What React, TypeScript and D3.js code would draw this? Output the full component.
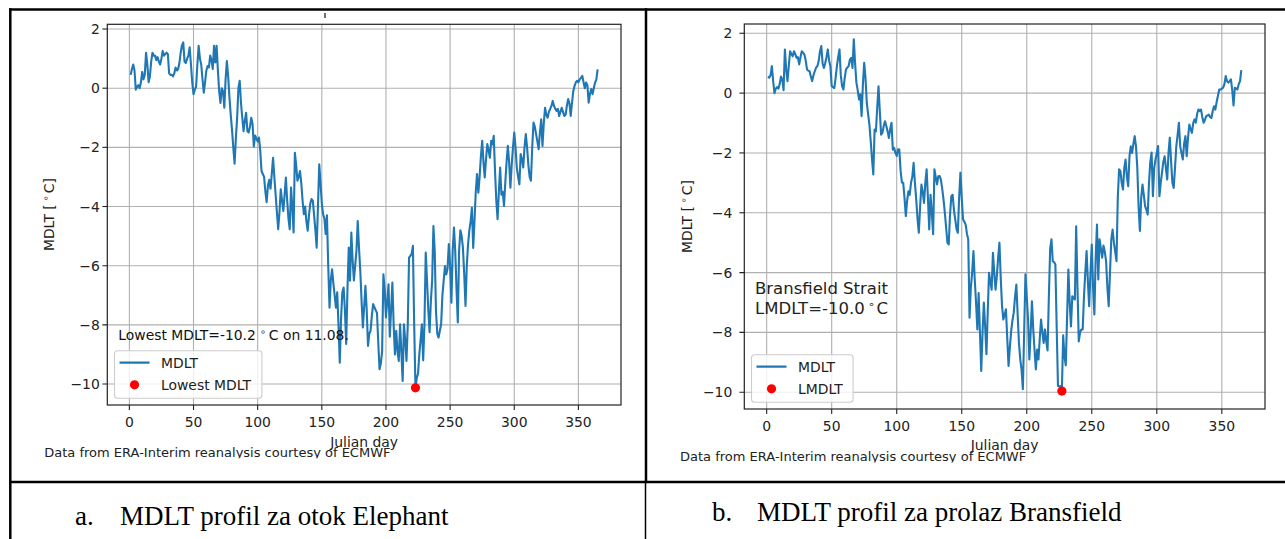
import React from 'react';
import * as d3 from 'd3';

const DAYS: number[] = d3.range(1, 366);
const X_TICKS = [0, 50, 100, 150, 200, 250, 300, 350];
const Y_TICKS = [-10, -8, -6, -4, -2, 0, 2];

// Elephant Island MDLT, days 1..365
const ELEPHANT = [
  0.45, 0.65, 0.8, 0.6, -0.05, 0.05, 0.1, 0.0, 0.2, 0.55,
  0.3, 0.45, 1.2, 0.8, 0.2, 0.4, 0.9, 1.2, 1.1, 1.1,
  0.95, 1.05, 0.9, 0.8, 1.0, 1.26, 1.1, 1.15, 1.2, 1.15,
  0.5, 0.45, 0.45, 0.4, 0.5, 0.7, 0.6, 0.65, 0.85, 1.2,
  1.45, 1.55, 0.9, 0.85, 1.0, 1.1, 1.38, 0.8, 0.2, -0.2,
  -0.05, 0.05, 0.8, 1.43, 1.0, 0.8, 0.3, -0.15, 0.2, 0.6,
  0.75, 0.7, 1.1, 0.95, 0.65, 1.43, 0.87, 1.43, 0.6, -0.1,
  -0.5, 0.0, -0.1, -0.66, 0.3, 0.92, 0.4, -0.3, -0.9, -1.4,
  -2.0, -2.55, -1.7, -1.0, 0.0, 0.25, -0.5, -1.0, -1.45, -1.1,
  -0.83, -1.45, -1.5, -1.3, -1.0, -1.2, -1.97, -1.6, -1.7, -1.8,
  -1.67, -2.1, -2.8, -2.9, -3.0, -3.5, -3.85, -3.3, -3.1, -3.4,
  -2.9, -2.35, -3.0, -3.6, -4.2, -4.77, -4.2, -3.42, -3.8, -4.15,
  -3.6, -3.02, -3.8, -4.4, -4.77, -3.36, -4.0, -4.88, -2.18, -2.6,
  -3.13, -3.0, -2.8, -3.2, -3.8, -4.26, -4.0, -4.5, -4.82, -4.3,
  -3.9, -3.75, -3.8, -4.3, -4.8, -5.39, -4.0, -2.57, -3.2, -3.9,
  -4.26, -4.4, -4.93, -4.3, -6.0, -7.42, -6.5, -6.12, -6.6, -7.0,
  -7.42, -6.9, -8.0, -9.28, -7.8, -6.9, -6.74, -7.5, -8.65, -6.8,
  -5.39, -6.51, -4.88, -5.8, -6.5, -6.0, -5.5, -4.49, -5.4, -6.18,
  -7.2, -8.09, -7.4, -6.68, -7.5, -8.71, -8.3, -8.2, -7.7, -7.3,
  -7.4, -7.5, -7.6, -8.6, -9.5, -9.3, -8.9, -6.29, -6.8, -7.75,
  -7.2, -6.63, -8.4, -7.5, -6.57, -8.0, -9.0, -8.2, -8.9, -9.22,
  -7.98, -8.9, -9.9, -7.98, -8.5, -9.22, -8.0, -5.73, -5.67, -5.6,
  -5.33, -8.0, -10.13, -9.8, -9.65, -9.0, -8.5, -7.98, -9.2, -8.0,
  -5.56, -6.5, -7.5, -8.25, -7.2, -6.5, -4.66, -5.5, -7.55, -8.3,
  -8.43, -8.2, -7.98, -7.0, -6.5, -6.01, -6.3, -6.1, -5.27, -6.0,
  -7.25, -5.5, -4.71, -5.5, -6.8, -7.92, -5.5, -4.8, -5.0, -5.4,
  -6.3, -7.36, -6.0, -5.27, -4.8, -4.5, -4.04, -5.4, -4.5, -3.5,
  -2.9, -3.53, -3.0, -2.3, -1.78, -2.5, -3.02, -2.4, -1.89, -2.1,
  -2.35, -1.78, -1.9, -1.61, -2.8, -3.8, -4.43, -3.5, -2.68, -3.6,
  -3.5, -3.98, -3.2, -2.5, -1.95, -2.5, -3.36, -2.6, -2.0, -1.5,
  -2.0, -2.7, -3.0, -3.25, -2.23, -2.4, -2.68, -2.0, -1.55, -2.0,
  -2.6, -3.0, -3.13, -2.0, -1.16, -1.3, -1.55, -1.8, -2.06, -1.5,
  -1.05, -1.95, -1.2, -0.66, -0.9, -1.0, -0.8, -0.7, -0.6, -0.43,
  -0.6, -0.7, -0.77, -0.7, -0.94, -0.8, -0.66, -0.8, -0.94, -0.9,
  -0.6, -0.37, -0.5, -0.94, -0.5, -0.1, 0.08, 0.2, 0.25, 0.2,
  0.3, 0.35, 0.42, 0.2, 0.0, 0.19, 0.1, -0.49, -0.2, -0.03,
  -0.2, 0.0, 0.19, 0.3, 0.64,
];

// Bransfield Strait MDLT, days 1..365
const BRANSFIELD = [
  0.55, 0.52, 0.6, 0.9, 0.4, 0.0, 0.15, 0.2, 0.15, 0.3,
  0.55, 0.45, 0.1, 1.46, 0.8, 0.4, 0.9, 1.4, 1.3, 1.23,
  1.4, 1.3, 1.18, 1.2, 0.96, 1.2, 1.4, 1.35, 1.29, 1.1,
  0.79, 0.75, 0.73, 0.55, 0.4, 0.6, 0.73, 0.85, 0.9, 1.07,
  1.4, 1.57, 1.0, 0.84, 1.0, 1.2, 1.46, 1.1, 0.9, 0.23,
  0.2, 0.17, 0.5, 0.9, 1.2, 1.46, 0.6, 0.23, 0.12, 0.5,
  0.79, 0.85, 0.9, 1.12, 1.18, 0.84, 1.8, 1.0, 0.35, 0.1,
  -0.21, -0.04, -0.77, 0.3, 1.01, 0.5, -0.33, -0.7, -1.05, -1.6,
  -2.2, -2.72, -1.22, -1.28, -0.5, 0.23, -0.6, -1.39, -1.33, -1.1,
  -0.94, -1.1, -1.28, -1.5, -1.2, -0.99, -1.89, -1.83, -2.0, -2.1,
  -1.88, -1.89, -2.6, -2.99, -3.0, -3.5, -4.11, -3.6, -3.28, -3.4,
  -3.0, -2.8, -2.33, -3.0, -3.56, -4.2, -4.67, -3.8, -3.06, -3.3,
  -3.67, -3.0, -2.55, -3.5, -4.56, -3.4, -4.0, -4.72, -2.55, -2.8,
  -3.05, -2.78, -2.77, -2.9, -3.2, -3.56, -4.0, -4.5, -5.0, -5.06,
  -4.06, -3.45, -3.4, -3.9, -4.22, -4.55, -4.67, -3.5, -2.66, -3.5,
  -4.22, -4.3, -4.39, -4.7, -4.89, -7.51, -6.5, -6.01, -5.28, -6.23,
  -7.0, -7.9, -6.68, -8.0, -9.29, -8.0, -7.0, -7.8, -8.73, -7.3,
  -6.01, -6.3, -6.57, -5.34, -6.0, -6.57, -6.12, -5.5, -5.0, -6.2,
  -7.12, -7.57, -7.4, -7.23, -8.2, -9.12, -8.5, -7.96, -7.6, -7.34,
  -6.8, -6.4, -7.4, -8.35, -8.9, -9.24, -9.9, -8.0, -6.06, -6.8,
  -7.57, -8.9, -8.0, -6.96, -7.9, -8.6, -9.24, -8.57, -8.9, -8.2,
  -7.57, -8.0, -8.35, -7.9, -8.3, -8.6, -6.8, -5.2, -4.89, -5.62,
  -5.65, -5.73, -7.8, -9.79, -9.8, -9.79, -9.96, -8.1, -8.8, -9.1,
  -7.5, -5.9, -7.0, -7.8, -6.79, -6.85, -6.9, -4.45, -6.5, -8.3,
  -8.0, -7.9, -7.9, -6.8, -6.0, -5.28, -6.3, -7.12, -6.0, -5.06,
  -6.5, -7.4, -5.5, -4.39, -6.23, -4.89, -5.2, -5.5, -5.1, -5.3,
  -5.62, -6.5, -7.12, -6.0, -4.9, -4.56, -5.0, -5.3, -5.62, -3.5,
  -2.55, -2.6, -3.0, -3.22, -2.5, -2.22, -2.8, -3.11, -2.11, -1.78,
  -2.0, -1.7, -1.44, -1.78, -2.5, -3.8, -4.61, -3.5, -3.06, -3.4,
  -3.78, -3.9, -4.06, -3.0, -2.3, -1.99, -3.45, -2.5, -2.22, -2.0,
  -1.77, -3.45, -3.0, -2.66, -2.3, -2.11, -2.5, -2.89, -2.0, -1.49,
  -2.3, -3.0, -3.17, -2.5, -1.78, -1.4, -0.99, -1.78, -2.0, -2.22,
  -1.7, -1.44, -2.11, -1.5, -1.05, -1.2, -1.33, -1.0, -0.88, -0.99,
  -0.7, -0.55, -0.6, -0.55, -0.8, -0.99, -0.9, -0.77, -0.75, -0.72,
  -0.8, -0.83, -0.6, -0.44, -0.55, -0.3, -0.1, 0.12, 0.12, 0.15,
  0.18, 0.3, 0.57, 0.4, 0.35, 0.4, 0.46, 0.1, -0.41, 0.18,
  0.15, 0.12, 0.3, 0.4, 0.77,
];

const ELEPHANT_MIN = { day: 223, value: -10.13 };
const BRANSFIELD_MIN = { day: 227, value: -9.96 };
const LEGEND_A = ['MDLT', 'Lowest MDLT'];
const LEGEND_B = ['MDLT', 'LMDLT'];
const FOOTER = 'Data from ERA-Interim reanalysis courtesy of ECMWF';
const CAPTION_A = ['a.', 'MDLT profil za otok Elephant'];
const CAPTION_B = ['b.', 'MDLT profil za prolaz Bransfield'];

const FONT = '"DejaVu Sans", sans-serif';
const BLUE = '#1f77b4';
const FS = 13.9;

type ChartProps = {
  id: string;
  values: number[];
  min: { day: number; value: number };
  legend: string[];
  box: { l: number; r: number; t: number; b: number };
  yDomain: [number, number];
  yTickGap: number;
  ylabelX: number;
  xlabelY: number;
  footerX: number;
  footerY: number;
  clipBottom: number;
  clipLeft: number;
  clipRight: number;
  legendW: number;
  annotation: React.ReactNode;
};

function Chart(p: ChartProps) {
  const x = d3.scaleLinear().domain([-17.2, 383.2]).range([p.box.l, p.box.r]);
  const y = d3.scaleLinear().domain(p.yDomain).range([p.box.b, p.box.t]);
  const line = d3
    .line<number>()
    .x((_, i) => x(DAYS[i]))
    .y((d) => y(d));
  const { l, r, t, b } = p.box;
  const legH = 47.5;
  const legX = l + 7.2;
  const legY = b - 6.7 - legH;
  const cx = (l + r) / 2;
  const cy = (t + b) / 2;
  return (
    <g clipPath={`url(#fig-${p.id})`}>
      <defs>
        <clipPath id={`fig-${p.id}`}>
          <rect x={p.clipLeft} y={0} width={p.clipRight - p.clipLeft} height={p.clipBottom} />
        </clipPath>
        <clipPath id={`ax-${p.id}`}>
          <rect x={l} y={t} width={r - l} height={b - t} />
        </clipPath>
      </defs>
      <g clipPath={`url(#ax-${p.id})`}>
        {X_TICKS.map((v) => (
          <line key={'gx' + v} x1={x(v)} x2={x(v)} y1={t} y2={b} stroke="#b0b0b0" strokeWidth={1.1} />
        ))}
        {Y_TICKS.map((v) => (
          <line key={'gy' + v} x1={l} x2={r} y1={y(v)} y2={y(v)} stroke="#b0b0b0" strokeWidth={1.1} />
        ))}
        <path d={line(p.values) || ''} fill="none" stroke={BLUE} strokeWidth={2.1} strokeLinejoin="round" />
        <circle cx={x(p.min.day)} cy={y(p.min.value)} r={4.6} fill="#ff0000" />
      </g>
      <rect x={l} y={t} width={r - l} height={b - t} fill="none" stroke="#222" strokeWidth={1.2} />
      {X_TICKS.map((v) => (
        <g key={'tx' + v}>
          <line x1={x(v)} x2={x(v)} y1={b} y2={b + 4.9} stroke="#222" strokeWidth={1.1} />
          <text x={x(v)} y={b + 21.6} textAnchor="middle" fontFamily={FONT} fontSize={FS} fill="#222">
            {v}
          </text>
        </g>
      ))}
      {Y_TICKS.map((v) => (
        <g key={'ty' + v}>
          <line x1={l - 4.9} x2={l} y1={y(v)} y2={y(v)} stroke="#222" strokeWidth={1.1} />
          <text x={l - p.yTickGap} y={y(v) + 5} textAnchor="end" fontFamily={FONT} fontSize={FS} fill="#222">
            {v < 0 ? '\u2212' + Math.abs(v) : String(v)}
          </text>
        </g>
      ))}
      <text
        transform={`translate(${p.ylabelX},${cy}) rotate(-90)`}
        textAnchor="middle"
        fontFamily={FONT}
        fontSize={FS}
        fill="#222"
      >
        MDLT [<tspan dx={3} dy={-5} fontSize={9.5}>{'\u2218'}</tspan>
        <tspan dx={2} dy={5}>C]</tspan>
      </text>
      <text x={cx} y={p.xlabelY} textAnchor="middle" fontFamily={FONT} fontSize={FS} fill="#222">
        Julian day
      </text>
      <text x={p.footerX} y={p.footerY} fontFamily={FONT} fontSize={13} fill="#222">
        {FOOTER}
      </text>
      {p.annotation}
      <rect
        x={legX}
        y={legY}
        width={p.legendW}
        height={legH}
        rx={3}
        fill="#ffffff"
        fillOpacity={0.8}
        stroke="#cccccc"
        strokeWidth={1.1}
      />
      <line x1={legX + 5} x2={legX + 35} y1={legY + 11.8} y2={legY + 11.8} stroke={BLUE} strokeWidth={2.1} />
      <text x={legX + 46.5} y={legY + 16.8} fontFamily={FONT} fontSize={FS} fill="#222">
        {p.legend[0]}
      </text>
      <circle cx={legX + 20} cy={legY + 34} r={4.6} fill="#ff0000" />
      <text x={legX + 46.5} y={legY + 39} fontFamily={FONT} fontSize={FS} fill="#222">
        {p.legend[1]}
      </text>
    </g>
  );
}

export default function App() {
  const serif = '"Liberation Serif", "Times New Roman", serif';
  return (
    <svg
      width={1285}
      height={539}
      viewBox="0 0 1285 539"
      style={{ position: 'absolute', left: 0, top: 0, background: '#fff' }}
    >
      <rect x={0} y={0} width={1285} height={539} fill="#fff" />
      <Chart
        id="a"
        values={ELEPHANT}
        min={ELEPHANT_MIN}
        legend={LEGEND_A}
        box={{ l: 107.3, r: 621, t: 24.3, b: 405 }}
        yDomain={[-10.71, 2.16]}
        yTickGap={7.5}
        ylabelX={53.5}
        xlabelY={446.5}
        footerX={44.3}
        footerY={457.3}
        clipBottom={458.3}
        clipLeft={12}
        clipRight={644}
        legendW={147.4}
        annotation={
          <text x={118.3} y={340} fontFamily={FONT} fontSize={FS} fill="#111">
            Lowest MDLT=-10.2<tspan dx={4} dy={-5} fontSize={9.5}>{'\u2218'}</tspan>
            <tspan dx={3} dy={5}>C on 11.08.</tspan>
          </text>
        }
      />
      <line x1={325} x2={325} y1={13} y2={18} stroke="#333" strokeWidth={1.4} />
      <Chart
        id="b"
        values={BRANSFIELD}
        min={BRANSFIELD_MIN}
        legend={LEGEND_B}
        box={{ l: 744.3, r: 1265, t: 24, b: 409 }}
        yDomain={[-10.56, 2.31]}
        yTickGap={12}
        ylabelX={691.5}
        xlabelY={450}
        footerX={680}
        footerY={461}
        clipBottom={462.5}
        clipLeft={648}
        clipRight={1285}
        legendW={101.6}
        annotation={
          <text fontFamily={FONT} fontSize={16.5} fill="#222">
            <tspan x={755} y={294.3}>Bransfield Strait</tspan>
            <tspan x={755} y={314.3}>
              LMDLT=-10.0<tspan dx={3} dy={-6} fontSize={11}>{'\u2218'}</tspan>
              <tspan dx={2} dy={6}>C</tspan>
            </tspan>
          </text>
        }
      />
      <line x1={9} x2={1285} y1={9.5} y2={9.5} stroke="#000" strokeWidth={2.5} />
      <line x1={10.3} x2={10.3} y1={8.3} y2={539} stroke="#000" strokeWidth={2.5} />
      <line x1={646} x2={646} y1={8.3} y2={482} stroke="#000" strokeWidth={2.5} />
      <line x1={9} x2={1285} y1={482} y2={482} stroke="#000" strokeWidth={2.5} />
      <line x1={645.5} x2={645.5} y1={482} y2={539} stroke="#000" strokeWidth={1.5} />
      <text x={75} y={525} fontFamily={serif} fontSize={27} fill="#000">{CAPTION_A[0]}</text>
      <text x={120} y={525} fontFamily={serif} fontSize={27} fill="#000">{CAPTION_A[1]}</text>
      <text x={712} y={521} fontFamily={serif} fontSize={27} fill="#000">{CAPTION_B[0]}</text>
      <text x={757} y={521} fontFamily={serif} fontSize={27} fill="#000">{CAPTION_B[1]}</text>
    </svg>
  );
}
